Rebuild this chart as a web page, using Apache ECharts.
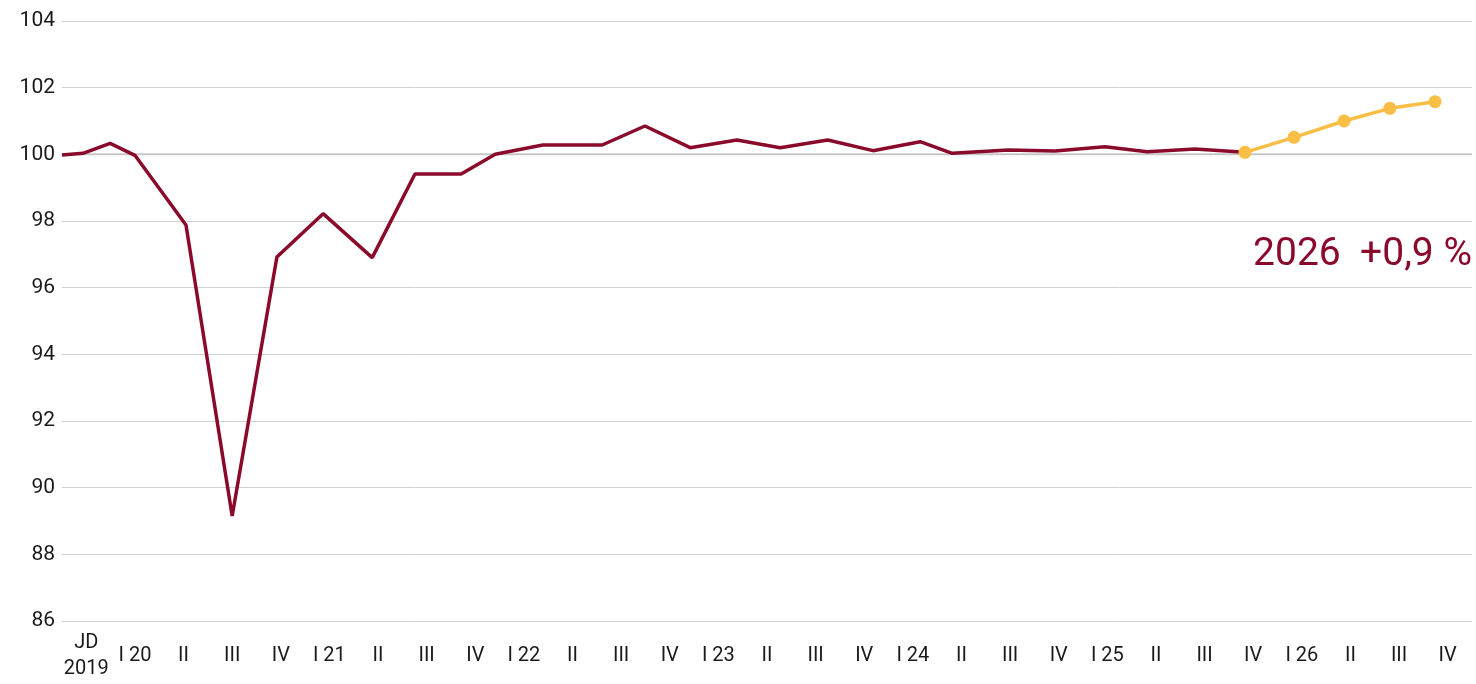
<!DOCTYPE html>
<html>
<head>
<meta charset="utf-8">
<script src="https://cdn.jsdelivr.net/npm/echarts@6/dist/echarts.min.js"></script>
<style>
  html, body { margin: 0; padding: 0; background: #fff; }
  #chart { width: 1476px; height: 684px; }
</style>
</head>
<body>
<div id="chart"></div>
<script>
// Achsenbeschriftung (Quartale)
const categories = ['JD\n2019', 'I 20', 'II', 'III', 'IV', 'I 21', 'II', 'III', 'IV',
  'I 22', 'II', 'III', 'IV', 'I 23', 'II', 'III', 'IV', 'I 24', 'II', 'III', 'IV',
  'I 25', 'II', 'III', 'IV', 'I 26', 'II', 'III', 'IV'];

// Ist-Werte: Lage auf der Quartalsachse und Index (JD 2019 = 100)
const histPos = [0, 0.43, 0.99, 1.5, 2.55, 3.5, 4.42, 5.37, 6.38, 7.26, 8.21, 8.91,
  9.89, 11.11, 11.99, 12.92, 13.88, 14.77, 15.75, 16.68, 17.65, 18.31, 19.46,
  20.42, 21.45, 22.32, 23.3, 24.33];
const histVal = [99.98, 100.03, 100.33, 99.97, 97.88, 89.15, 96.92, 98.22, 96.9,
  99.41, 99.41, 100.0, 100.28, 100.28, 100.85, 100.2, 100.43, 100.2, 100.43,
  100.11, 100.38, 100.03, 100.13, 100.1, 100.23, 100.08, 100.16, 100.06];

// Prognose
const fcPos = [24.33, 25.34, 26.37, 27.31, 28.24];
const fcVal = [100.06, 100.51, 101.0, 101.38, 101.58];

// Basislinie JD 2019 = 100
const baseLevel = 100;

const yMin = 86, yMax = 104, yStep = 2;
const note = '2026  +0,9 %';

const red = '#8a0a2c';
const gold = '#f9be45';

let myChart = echarts.init(document.getElementById('chart'));

myChart.setOption({
    animation: false,
    grid: { left: 62, right: 4, top: 21, bottom: 63 },
    xAxis: [{
        type: 'category',
        data: categories,
        boundaryGap: true,
        axisLine: { show: false },
        axisTick: { show: false },
        axisLabel: {
            interval: 0,
            color: '#1a1a1a',
            fontFamily: 'Roboto',
            fontSize: 20,
            lineHeight: 26,
            margin: 35,
            verticalAlign: 'middle'
        }
    }, {
        type: 'value',
        min: 0,
        max: categories.length,
        show: false
    }],
    yAxis: {
        type: 'value',
        min: yMin,
        max: yMax,
        interval: yStep,
        axisLine: { show: false },
        axisTick: { show: false },
        axisLabel: { color: '#1a1a1a', fontFamily: 'Roboto', fontSize: 21, margin: 7 },
        splitLine: { lineStyle: { color: '#d0d0d0', width: 1 } }
    },
    series: [{
        type: 'line',
        xAxisIndex: 1,
        data: [[0, baseLevel], [categories.length, baseLevel]],
        showSymbol: false,
        silent: true,
        lineStyle: { color: '#c6c6c6', width: 2 },
        z: 1
    }, {
        name: 'Ist',
        type: 'line',
        xAxisIndex: 1,
        data: histPos.map((x, i) => [x, histVal[i]]),
        showSymbol: false,
        lineStyle: { color: red, width: 3.5 },
        z: 3
    }, {
        name: 'Prognose',
        type: 'line',
        xAxisIndex: 1,
        data: fcPos.map((x, i) => [x, fcVal[i]]),
        symbol: 'circle',
        symbolSize: 13,
        itemStyle: { color: gold },
        lineStyle: { color: gold, width: 3.5 },
        z: 4
    }],
    graphic: [{
        type: 'text',
        right: 4,
        top: 236,
        style: {
            text: note,
            fill: red,
            font: '39px Roboto'
        }
    }]
});
</script>
</body>
</html>
